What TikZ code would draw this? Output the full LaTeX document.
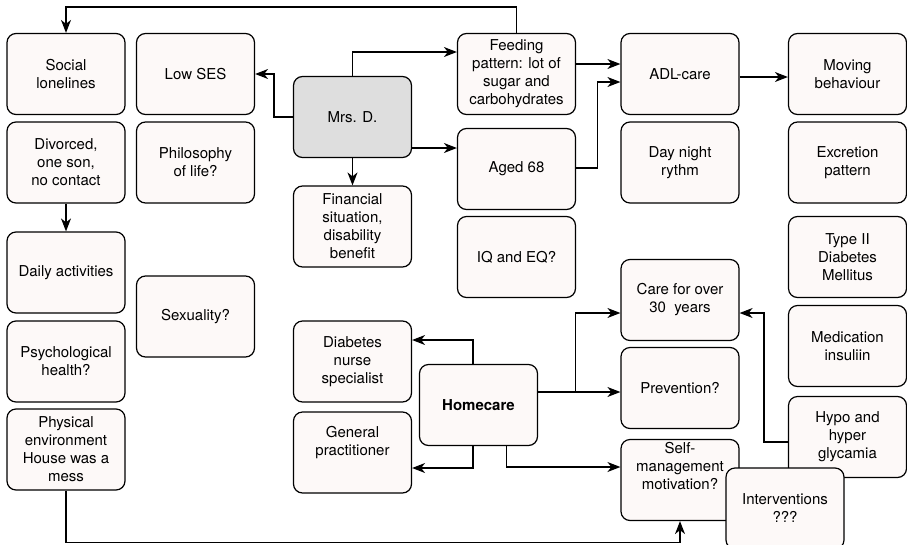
\documentclass[tikz,border=0pt]{standalone}
\usepackage{fontspec}
\setmainfont{TeX Gyre Heros}
\usepackage{tikz}
\usetikzlibrary{arrows.meta}
\definecolor{boxfill}{HTML}{FDF9F8}
\definecolor{mrsfill}{HTML}{DEDEDE}
\tikzset{
  box/.style={draw, line width=1.2pt, rounded corners=9pt, fill=boxfill,
    minimum width=118pt, minimum height=81pt, inner sep=2pt, align=center,
    font=\fontsize{15}{18}\selectfont},
  arr/.style={line width=1.2pt, -{Stealth[length=13pt,width=10pt,inset=4pt]}}
}
\begin{document}
\begin{tikzpicture}[x=1pt, y=-1pt]
  \useasboundingbox (0,0) rectangle (907,544);
  % left columns
  \node[box] (social) at (66,74) {Social\\lonelines};
  \node[box] (divorced) at (66,162.5) {Divorced,\\one son,\\no contact};
  \node[box] (daily) at (66,272.5) {Daily activities};
  \node[box] (psych) at (66,361.5) {Psychological\\health?};
  \node[box] (phys) at (66,449.5) {Physical\\environment\\House was a\\mess};
  \node[box] (lowses) at (195.5,74) {Low SES};
  \node[box] (philo) at (195.5,162.5) {Philosophy\\of life?};
  \node[box] (sex) at (195.5,316.5) {Sexuality?};
  % middle
  \node[box, fill=mrsfill] (mrsd) at (352.5,117) {Mrs. D.};
  \node[box] (fin) at (352.5,226.5) {Financial\\situation,\\disability\\benefit};
  \node[box] (dns) at (352.5,361.5) {Diabetes\\nurse\\specialist};
  \node[box] (gp) at (352.5,452.5) {General\\practitioner\\[6pt]};
  \node[box] (home) at (478.5,405) {\bfseries Homecare};
  \node[box] (feed) at (516.5,74) {Feeding\\pattern: lot of\\sugar and\\carbohydrates};
  \node[box] (aged) at (516.5,169) {Aged 68};
  \node[box] (iq) at (516.5,257) {IQ and EQ?};
  % right columns
  \node[box] (adl) at (680,74) {ADL-care};
  \node[box] (day) at (680,162.5) {Day night\\rythm};
  \node[box] (care) at (680,300) {Care for over\\30\ \ years};
  \node[box] (prev) at (680,388) {Prevention?};
  \node[box] (self) at (680,480) {Self-\\management\\motivation?\\[10pt]};
  \node[box] (moving) at (847.5,74) {Moving\\behaviour};
  \node[box] (excr) at (847.5,162.5) {Excretion\\pattern};
  \node[box] (type) at (847.5,257) {Type II\\Diabetes\\Mellitus};
  \node[box] (medic) at (847.5,346) {Medication\\insuliin};
  \node[box] (hypo) at (847.5,437) {Hypo and\\hyper\\glycamia};

  \draw[arr] (feed.north) -- ++(0,-26) -| (social.north);
  \draw[arr] (mrsd.west) -- ++(-19,0) |- (lowses.east);
  \draw[arr] (mrsd.north) |- ([yshift=22pt]feed.west);
  \draw[arr] ([yshift=-31pt]mrsd.east) coordinate (m1) -- (m1 -| aged.west);
  \draw[arr] (mrsd) -- (fin);
  \draw[arr] ([yshift=10pt]feed.east) coordinate (f1) -- (f1 -| adl.west);
  \draw[arr] ([yshift=1pt]aged.east) -- ++(21,0) |- ([yshift=-8pt]adl.west);
  \draw[arr] ([yshift=-3pt]adl.east) coordinate (a1) -- (a1 -| moving.west);
  \draw[arr] (divorced) -- (daily);
  \draw[arr] ([xshift=-5.5pt]home.north) |- ([yshift=21.5pt]dns.east);
  \draw[arr] ([xshift=-5.5pt]home.south) |- ([yshift=-15.5pt]gp.east);
  \draw[arr] ([yshift=13pt]home.east) coordinate (h1) -- (h1 -| prev.west);
  \draw[arr] ([xshift=37pt]h1) |- ([yshift=-13pt]care.west);
  \draw[arr] ([xshift=28pt]home.south) |- ([yshift=13pt]self.west);
  \draw[arr] ([yshift=-5pt]hypo.west) -- ++(-24,0) |- ([yshift=-13pt]care.east);
  \draw[arr] (phys.south) -- ++(0,52) -| (self.south);

  \node[box] (interv) at (785,508.5) {Interventions\\???};
\end{tikzpicture}
\end{document}
